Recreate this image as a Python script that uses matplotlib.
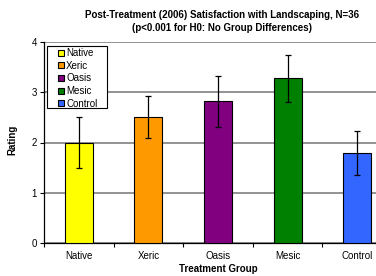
import matplotlib.pyplot as plt
from matplotlib.lines import Line2D
from matplotlib.patches import Rectangle

groups = ["Native", "Xeric", "Oasis", "Mesic", "Control"]
ratings = [2.00, 2.51, 2.82, 3.28, 1.79]
errors = [0.51, 0.42, 0.51, 0.47, 0.44]
colors = ["#FFFF00", "#FF9900", "#800080", "#008000", "#3366FF"]

plt.rcParams['font.family'] = ['Liberation Sans', 'DejaVu Sans']

W, H = 376, 276
fig = plt.figure(figsize=(W/100, H/100), dpi=100)
# plot area runs past the right edge of the image, as in the original
ax = fig.add_axes([44/W, 1-243/H, 348/W, 201/H])

x = list(range(len(groups)))
ax.bar(x, ratings, width=0.4, color=colors, edgecolor='black', linewidth=0.8, zorder=3)
ax.errorbar(x, ratings, yerr=errors, fmt='none', ecolor='black',
            elinewidth=0.9, capsize=2, capthick=0.9, zorder=4)

ax.set_xlim(-0.5, len(groups) - 0.5)
ax.set_ylim(0, 4)
ax.set_yticks([0, 1, 2, 3, 4])
ax.yaxis.grid(True, color='#808080', linewidth=1.2, zorder=0)
ax.set_axisbelow(True)

ax.set_xticks(x)
ax.set_xticklabels(groups, fontsize=7)
ax.set_xticks([i - 0.5 for i in range(len(groups) + 1)], minor=True)
ax.tick_params(axis='x', which='major', length=0, pad=6)
ax.tick_params(axis='x', which='minor', length=3, width=0.8)
ax.tick_params(axis='y', labelsize=7, length=3, width=0.8, pad=2)

for s in ['top', 'right']:
    ax.spines[s].set_visible(False)
ax.spines['left'].set_linewidth(0.9)
ax.spines['bottom'].set_linewidth(0.9)

fig.text(218/W, 1-269/H, "Treatment Group", ha='center', va='center',
         fontsize=7, fontweight='bold')
fig.text(12/W, 1-140/H, "Rating", rotation=90, ha='center', va='center',
         fontsize=7, fontweight='bold')

fig.text(222/W, 1-15/H, "Post-Treatment (2006) Satisfaction with Landscaping, N=36",
         ha='center', va='center', fontsize=7, fontweight='bold')
fig.text(222/W, 1-28/H, "(p<0.001 for H0: No Group Differences)",
         ha='center', va='center', fontsize=7, fontweight='bold')

# legend box
fig.patches.append(Rectangle((47/W, 1-108/H), 60/W, 62/H, transform=fig.transFigure,
                             facecolor='white', edgecolor='black', linewidth=0.8, zorder=5))
handles = [Line2D([], [], linestyle='none', marker='s', markersize=5,
                  markerfacecolor=c, markeredgecolor='black', markeredgewidth=0.8)
           for c in colors]
leg = fig.legend(handles, groups, loc='upper left', bbox_to_anchor=(56/W, 1-48/H),
                 fontsize=7, frameon=False, borderpad=0,
                 labelspacing=0.28, handletextpad=0.05, handlelength=1.0,
                 borderaxespad=0)
leg.set_zorder(6)

fig.savefig("out.png", dpi=100)
